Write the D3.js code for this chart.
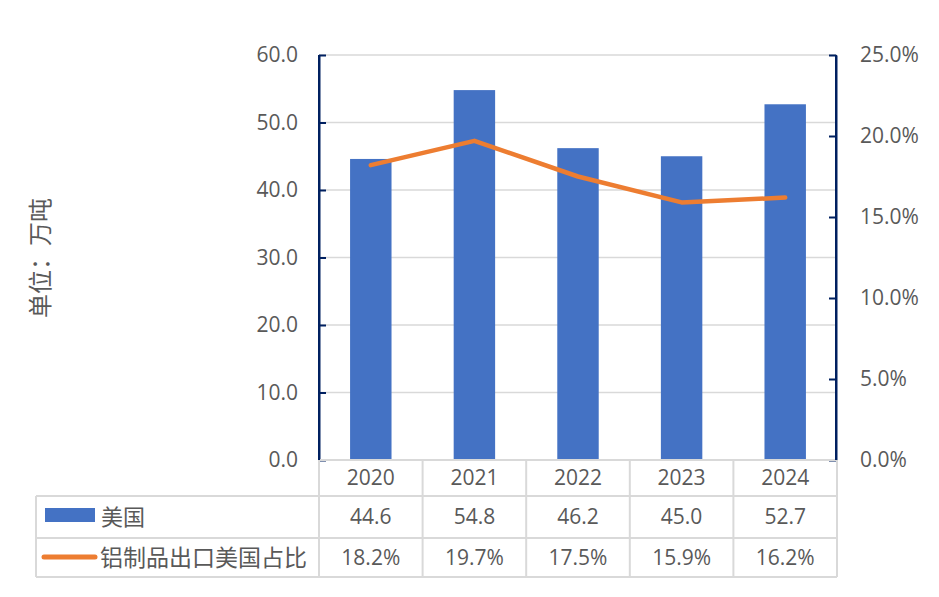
<!DOCTYPE html>
<html><head><meta charset="utf-8">
<script src="https://cdn.jsdelivr.net/npm/d3@7"></script>
<style>body{margin:0;background:#fff;}svg{display:block;}</style>
</head><body>
<svg id="c" width="939" height="597"></svg>
<script>
const categories = ["2020","2021","2022","2023","2024"];
const usVolume = [44.6, 54.8, 46.2, 45.0, 52.7];
const usShare = [0.182, 0.197, 0.175, 0.159, 0.162];
const usVolumeLabels = ["44.6","54.8","46.2","45.0","52.7"];
const usShareLabels = ["18.2%","19.7%","17.5%","15.9%","16.2%"];
const leftTicks = [0,10,20,30,40,50,60];
const rightTicks = [0,0.05,0.10,0.15,0.20,0.25];
const seriesNames = ["美国","铝制品出口美国占比"];
const axisTitle = "单位：万吨";

const svg = d3.select("#c");
const L = 319, R = 837, T = 55, B = 460;
const latin = "'Open Sans', 'Liberation Sans', sans-serif";
const cjk = "'Noto Sans CJK SC', sans-serif";
const txt = "#595959", grid = "#d9d9d9", axisC = "#002060";
const blue = "#4472C4", orange = "#ED7D31";
const fs = "21px";

const xCol = d3.scaleBand().domain(categories).range([L, R]).padding(0);
const xBar = d3.scaleBand().domain(categories).range([L, R]).paddingInner(0.6).paddingOuter(0.3);
const yL = d3.scaleLinear().domain([0,60]).range([B, T]);
const yR = d3.scaleLinear().domain([0,0.25]).range([B, T]);

// gridlines
svg.append("g").selectAll("line").data(leftTicks.filter(d=>d>0)).join("line")
  .attr("x1", L).attr("x2", R).attr("y1", d=>yL(d)).attr("y2", d=>yL(d))
  .attr("stroke", grid).attr("stroke-width", 1.5);

// bars
svg.append("g").selectAll("rect").data(categories).join("rect")
  .attr("x", d=>xBar(d)).attr("width", xBar.bandwidth())
  .attr("y", (d,i)=>yL(usVolume[i])).attr("height", (d,i)=>B - yL(usVolume[i]))
  .attr("fill", blue);

// line
const line = d3.line().x((d,i)=>xCol(categories[i]) + xCol.bandwidth()/2).y(d=>yR(d));
svg.append("path").datum(usShare).attr("d", line)
  .attr("fill","none").attr("stroke", orange).attr("stroke-width", 4.5)
  .attr("stroke-linecap","round").attr("stroke-linejoin","round");

// left axis
const gl = svg.append("g").attr("transform", `translate(${L},0)`)
  .call(d3.axisLeft(yL).tickValues(leftTicks).tickFormat(d3.format(".1f")).tickSizeInner(-7).tickSizeOuter(0).tickPadding(21));
gl.select(".domain").attr("stroke", axisC).attr("stroke-width", 2);
gl.selectAll(".tick line").attr("stroke", axisC).attr("stroke-width", 2);
gl.selectAll(".tick text").attr("fill", txt).style("font-family", latin).style("font-size", fs);

// right axis
const gr = svg.append("g").attr("transform", `translate(${R-1},0)`)
  .call(d3.axisRight(yR).tickValues(rightTicks).tickFormat(d3.format(".1%")).tickSizeInner(-7).tickSizeOuter(0).tickPadding(24));
gr.select(".domain").attr("stroke", axisC).attr("stroke-width", 2);
gr.selectAll(".tick line").attr("stroke", axisC).attr("stroke-width", 2);
gr.selectAll(".tick text").attr("fill", txt).style("font-family", latin).style("font-size", fs);

// axis title
svg.append("text").attr("transform", "translate(49,258) rotate(-90)")
  .attr("text-anchor","middle").attr("fill", txt)
  .style("font-family", cjk).style("font-size","24px").text(axisTitle);

// data table
const rowY = [460, 496, 538, 577];
const tl = 36;
const tg = svg.append("g").attr("stroke", grid).attr("stroke-width", 2);
tg.append("line").attr("x1", L).attr("x2", R).attr("y1", rowY[0]).attr("y2", rowY[0]);
[1,2,3].forEach(k => tg.append("line").attr("x1", tl).attr("x2", R).attr("y1", rowY[k]).attr("y2", rowY[k]));
tg.append("line").attr("x1", tl).attr("x2", tl).attr("y1", rowY[1]).attr("y2", rowY[3]);
categories.forEach(c => tg.append("line").attr("x1", xCol(c)).attr("x2", xCol(c)).attr("y1", rowY[0]).attr("y2", rowY[3]));
tg.append("line").attr("x1", R).attr("x2", R).attr("y1", rowY[0]).attr("y2", rowY[3]);

// redraw axis lines over table top
svg.append("line").attr("x1", L).attr("x2", L).attr("y1", T).attr("y2", B).attr("stroke", axisC).attr("stroke-width", 2);
svg.append("line").attr("x1", R-1).attr("x2", R-1).attr("y1", T).attr("y2", B).attr("stroke", axisC).attr("stroke-width", 2);

const cell = (x, yTop, yBot, s, font, size, anchor) => svg.append("text")
  .attr("x", x).attr("y", (yTop+yBot)/2).attr("dy","0.35em")
  .attr("text-anchor", anchor || "middle").attr("fill", txt)
  .style("font-family", font).style("font-size", size).text(s);

categories.forEach((c,i) => {
  const cx = xCol(c) + xCol.bandwidth()/2;
  cell(cx, rowY[0], rowY[1], c, latin, fs);
  cell(cx, rowY[1], rowY[2], usVolumeLabels[i], latin, fs);
  cell(cx, rowY[2], rowY[3], usShareLabels[i], latin, fs);
});

// legend keys
svg.append("rect").attr("x", 45).attr("y", 508).attr("width", 50).attr("height", 14).attr("fill", blue);
svg.append("line").attr("x1", 44).attr("x2", 95).attr("y1", 557).attr("y2", 557)
  .attr("stroke", orange).attr("stroke-width", 5).attr("stroke-linecap","round");
cell(101, rowY[1], rowY[2], seriesNames[0], cjk, "22px", "start");
cell(100, rowY[2], rowY[3], seriesNames[1], cjk, "23px", "start");
</script>
</body></html>
